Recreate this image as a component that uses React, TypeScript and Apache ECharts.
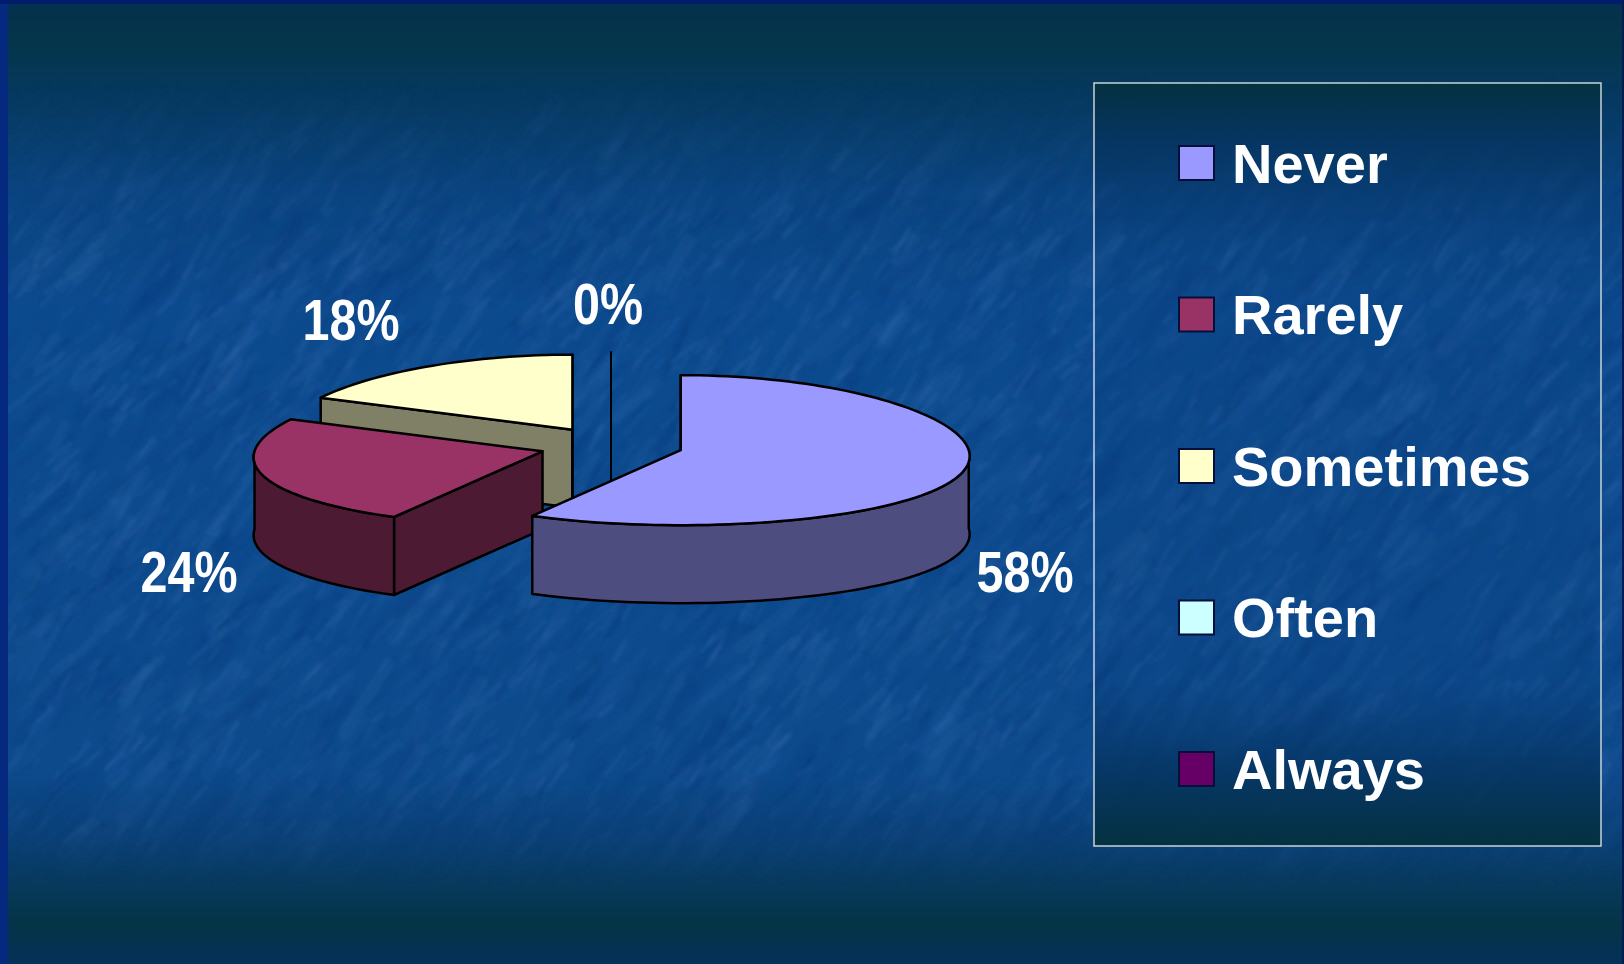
import React, { useEffect, useRef } from "react";
import * as echarts from "echarts";

const categories = ["Never", "Rarely", "Sometimes", "Often", "Always"];
const shares = [58, 24, 18, 0, 0];
const showShareLabel = [true, true, true, true, false];

const topColors = ["#9999ff", "#993366", "#ffffcc", "#ccffff", "#660066"];
const sideColors = ["#4d4d80", "#4d1a33", "#808066", "#668080", "#330033"];
const seriesLayers = [6, 5, 3, 4, 4];
const labelCentres = [
  [1025, 572],
  [189, 572],
  [351, 320],
  [608, 304],
  [608, 304],
];

const PIE = { cx: 611, cy: 445.5, rx: 288, ry: 75, depth: 78, explode: 0.25, perspective: 0.08 };
const WIDTH = 1624;
const HEIGHT = 964;

function makeBackdrop(): string {
  const canvas = document.createElement("canvas");
  canvas.width = WIDTH;
  canvas.height = HEIGHT;
  const ctx = canvas.getContext("2d")!;
  const base = ctx.createLinearGradient(0, 0, 0, HEIGHT);
  [
    [0, "#04304e"],
    [0.045, "#05354a"],
    [0.1, "#063960"],
    [0.2, "#0a4480"],
    [0.32, "#0c4a8e"],
    [0.8, "#0c4a8c"],
    [0.875, "#0a3f74"],
    [0.96, "#053446"],
    [1, "#05305a"],
  ].forEach(([o, c]) => base.addColorStop(o as number, c as string));
  ctx.fillStyle = base;
  ctx.fillRect(0, 0, WIDTH, HEIGHT);

  const tex = document.createElement("canvas");
  tex.width = WIDTH;
  tex.height = HEIGHT;
  const t = tex.getContext("2d")!;
  let seed = 20240611;
  const rnd = () => {
    seed = (seed * 1664525 + 1013904223) >>> 0;
    return seed / 4294967296;
  };
  t.lineCap = "round";
  const strokes = (count: number, minLen: number, spanLen: number, minW: number, spanW: number, alpha: number) => {
    for (let i = 0; i < count; i++) {
      const x = rnd() * WIDTH;
      const y = rnd() * HEIGHT;
      const len = minLen + rnd() * spanLen;
      const a = (-35 - rnd() * 30) * (Math.PI / 180);
      const light = rnd() > 0.45;
      const o = alpha * (0.4 + rnd() * 0.8);
      t.strokeStyle = light ? `rgba(90,140,205,${o})` : `rgba(4,40,105,${o})`;
      t.lineWidth = minW + rnd() * spanW;
      t.beginPath();
      t.moveTo(x, y);
      t.lineTo(x + Math.cos(a) * len, y + Math.sin(a) * len);
      t.stroke();
    }
  };
  strokes(2500, 25, 60, 5, 10, 0.07);
  strokes(5000, 8, 28, 1.5, 3.5, 0.11);
  t.globalCompositeOperation = "destination-in";
  const mask = t.createLinearGradient(0, 0, 0, HEIGHT);
  mask.addColorStop(0.08, "rgba(0,0,0,0)");
  mask.addColorStop(0.26, "rgba(0,0,0,1)");
  mask.addColorStop(0.8, "rgba(0,0,0,1)");
  mask.addColorStop(0.92, "rgba(0,0,0,0)");
  t.fillStyle = mask;
  t.fillRect(0, 0, WIDTH, HEIGHT);
  ctx.filter = "blur(1.6px)";
  ctx.drawImage(tex, 0, 0);
  ctx.filter = "none";

  ctx.fillStyle = "#04297f";
  ctx.fillRect(0, 0, 8, HEIGHT);
  ctx.fillStyle = "#021c6c";
  ctx.fillRect(0, 0, WIDTH, 4);
  ctx.fillStyle = "#031a50";
  ctx.fillRect(WIDTH - 2, 0, 2, HEIGHT);
  return canvas.toDataURL("image/jpeg", 0.9);
}

const ellipsePoint = (ox: number, oy: number, deg: number): number[] => {
  const r = (deg * Math.PI) / 180;
  return [
    ox + PIE.rx * Math.sin(r) * (1 - PIE.perspective * Math.cos(r)),
    oy - PIE.ry * Math.cos(r),
  ];
};

function arcPoints(ox: number, oy: number, from: number, to: number): number[][] {
  const pts: number[][] = [];
  const steps = Math.max(1, Math.ceil((to - from) / 2));
  for (let i = 0; i <= steps; i++) pts.push(ellipsePoint(ox, oy, from + ((to - from) * i) / steps));
  return pts;
}

const drop = (pts: number[][]) => pts.map(([x, y]) => [x, y + PIE.depth]);
const facesViewer = (normalDeg: number) => Math.cos((normalDeg * Math.PI) / 180) < 1e-9;

function renderSlice(params: any, api: any) {
  const idx: number = params.seriesIndex;
  const share: number = api.value(0);
  const before: number = api.value(1);
  const from = (before / 100) * 360;
  const to = ((before + share) / 100) * 360;
  const mid = (from + to) / 2;
  const midRad = (mid * Math.PI) / 180;
  const ox = PIE.cx + PIE.explode * PIE.rx * Math.sin(midRad);
  const oy = PIE.cy - PIE.explode * PIE.ry * Math.cos(midRad);
  const apex = [ox, oy];
  const stroke = { stroke: "#000000", lineWidth: share > 0 ? 2.5 : 0.7, lineJoin: "round" };
  const children: any[] = [];

  [
    [from, from - 90],
    [to, to + 90],
  ].forEach(([edge, normal]) => {
    if (!facesViewer(normal)) return;
    const pts = [apex, ellipsePoint(ox, oy, edge)];
    children.push({
      type: "polygon",
      shape: { points: [...pts, ...drop(pts).reverse()] },
      style: { fill: sideColors[idx], ...stroke },
    });
  });

  const wallFrom = Math.max(from, 90);
  const wallTo = Math.min(to, 270);
  if (wallTo > wallFrom) {
    const rim = arcPoints(ox, oy, wallFrom, wallTo);
    children.push({
      type: "polygon",
      shape: { points: [...rim, ...drop(rim).reverse()] },
      style: { fill: sideColors[idx], ...stroke },
    });
  }

  children.push({
    type: "polygon",
    shape: { points: [apex, ...arcPoints(ox, oy, from, to)] },
    style: { fill: topColors[idx], ...stroke },
  });

  if (showShareLabel[idx]) {
    children.push({
      type: "text",
      x: labelCentres[idx][0],
      y: labelCentres[idx][1],
      scaleX: 0.85,
      style: {
        text: `${Math.round(share)}%`,
        fill: "#ffffff",
        font: 'bold 57px "Liberation Sans"',
        align: "center",
        verticalAlign: "middle",
      },
    });
  }
  return { type: "group", children };
}

export default function App() {
  const ref = useRef<HTMLDivElement>(null);
  useEffect(() => {
    document.body.style.margin = "0";
    document.body.style.background = "#05305a";
    const chart = echarts.init(ref.current!, undefined, { renderer: "svg" });
    let running = 0;
    const series = categories.map((name, i) => {
      const before = running;
      running += shares[i];
      return {
        type: "custom",
        name,
        coordinateSystem: "none",
        z: seriesLayers[i],
        silent: true,
        itemStyle: { color: topColors[i] },
        renderItem: renderSlice,
        data: [[shares[i], before]],
      };
    });
    chart.setOption({
      animation: false,
      backgroundColor: "transparent",
      graphic: [
        {
          type: "image",
          silent: true,
          z: -10,
          style: { image: makeBackdrop(), x: 0, y: 0, width: WIDTH, height: HEIGHT },
        },
        {
          type: "rect",
          silent: true,
          z: -5,
          shape: { x: 1094, y: 83, width: 507, height: 763 },
          style: {
            fill: new echarts.graphic.LinearGradient(0, 0, 0, 1, [
              { offset: 0, color: "rgba(4,48,62,0.95)" },
              { offset: 0.08, color: "rgba(5,52,96,0.85)" },
              { offset: 0.22, color: "rgba(8,60,120,0.2)" },
              { offset: 0.78, color: "rgba(8,60,120,0.2)" },
              { offset: 0.9, color: "rgba(5,52,96,0.85)" },
              { offset: 1, color: "rgba(4,48,62,0.95)" },
            ]),
            stroke: "#c8d4d8",
            lineWidth: 1.5,
          },
        },
      ],
      legend: {
        data: categories,
        orient: "vertical",
        left: 1178,
        top: 125,
        padding: 0,
        icon: "rect",
        itemWidth: 35,
        itemHeight: 34,
        itemGap: 75.5,
        selectedMode: false,
        itemStyle: { borderColor: "#060f3a", borderWidth: 2 },
        textStyle: {
          color: "#ffffff",
          fontFamily: "Liberation Sans",
          fontWeight: "bold",
          fontSize: 56,
          height: 60,
          lineHeight: 60,
          padding: [16, 0, 0, 13],
        },
      },
      series,
    });
    return () => chart.dispose();
  }, []);
  return (
    <div
      ref={ref}
      style={{ position: "fixed", left: 0, top: 0, width: WIDTH, height: HEIGHT }}
    />
  );
}
